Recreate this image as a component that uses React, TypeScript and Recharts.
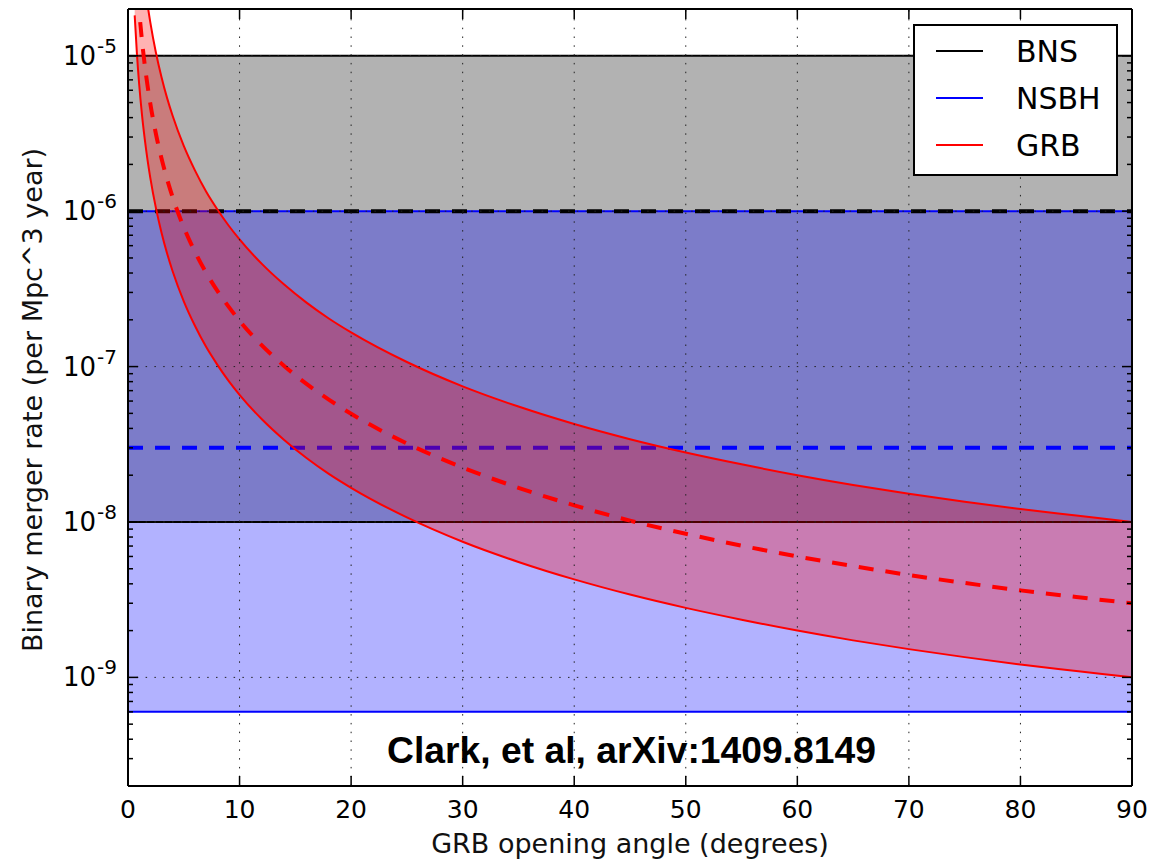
import React from 'react';
import {
  ComposedChart,
  Area,
  Line,
  XAxis,
  YAxis,
  ReferenceArea,
  ReferenceLine
} from 'recharts';

// GRB opening angle (degrees) and the implied rate band
const angle = [0.6, 0.8, 1, 1.25, 1.5, 1.75, 2, 2.5, 3, 3.5, 4, 5, 6, 7, 8, 9, 10, 12, 14, 16, 18, 20, 25, 30, 35, 40, 45, 50, 55, 60, 65, 70, 75, 80, 85, 90];
const grbLow = [1.82e-5, 1.03e-5, 6.57e-6, 4.2e-6, 2.92e-6, 2.14e-6, 1.64e-6, 1.05e-6, 7.3e-7, 5.36e-7, 4.11e-7, 2.63e-7, 1.83e-7, 1.34e-7, 1.03e-7, 8.12e-8, 6.58e-8, 4.58e-8, 3.37e-8, 2.58e-8, 2.04e-8, 1.66e-8, 1.07e-8, 7.46e-9, 5.53e-9, 4.27e-9, 3.41e-9, 2.8e-9, 2.35e-9, 2.0e-9, 1.73e-9, 1.52e-9, 1.35e-9, 1.21e-9, 1.1e-9, 1.0e-9];
const grbMid = [5.47e-5, 3.08e-5, 1.97e-5, 1.26e-5, 8.75e-6, 6.43e-6, 4.92e-6, 3.15e-6, 2.19e-6, 1.61e-6, 1.23e-6, 7.88e-7, 5.48e-7, 4.02e-7, 3.08e-7, 2.44e-7, 1.97e-7, 1.37e-7, 1.01e-7, 7.74e-8, 6.13e-8, 4.97e-8, 3.2e-8, 2.24e-8, 1.66e-8, 1.28e-8, 1.02e-8, 8.4e-9, 7.04e-9, 6.0e-9, 5.2e-9, 4.56e-9, 4.05e-9, 3.63e-9, 3.29e-9, 3.0e-9];
const grbHigh = [1.82e-4, 1.03e-4, 6.57e-5, 4.2e-5, 2.92e-5, 2.14e-5, 1.64e-5, 1.05e-5, 7.3e-6, 5.36e-6, 4.11e-6, 2.63e-6, 1.83e-6, 1.34e-6, 1.03e-6, 8.12e-7, 6.58e-7, 4.58e-7, 3.37e-7, 2.58e-7, 2.04e-7, 1.66e-7, 1.07e-7, 7.46e-8, 5.53e-8, 4.27e-8, 3.41e-8, 2.8e-8, 2.35e-8, 2.0e-8, 1.73e-8, 1.52e-8, 1.35e-8, 1.21e-8, 1.1e-8, 1.0e-8];

// BNS and NSBH rate bands (low, realistic, high)
const bnsRate = [1e-8, 1e-6, 1e-5];
const nsbhRate = [6e-10, 3e-8, 1e-6];

const xTicks = [0, 10, 20, 30, 40, 50, 60, 70, 80, 90];
const xGrid = [10, 20, 30, 40, 50, 60, 70, 80];
const yTicks = [1e-9, 1e-8, 1e-7, 1e-6, 1e-5];
const yDomain = [2e-10, 2e-5];
// log axis ticks: majors at each decade, minors at 2..9
const yAllTicks = [1e-10, 1e-9, 1e-8, 1e-7, 1e-6, 1e-5]
  .flatMap((d) => [1, 2, 3, 4, 5, 6, 7, 8, 9].map((m) => m * d))
  .filter((v) => v >= 1.99e-10 && v <= 2.01e-5);

const legendItems = [
  { name: 'BNS', color: '#000000' },
  { name: 'NSBH', color: '#0000ff' },
  { name: 'GRB', color: '#ff0000' }
];

const data = angle.map((a, i) => ({
  angle: a,
  low: grbLow[i],
  mid: grbMid[i],
  high: grbHigh[i],
  band: [grbLow[i], grbHigh[i]]
}));

const W = 1156;
const H = 854;
const MARGIN = { top: 1, right: 32, bottom: 0, left: 0 };
const Y_AXIS_W = 120;
const X_AXIS_H = 76;
const PLOT_W = W - MARGIN.left - MARGIN.right - Y_AXIS_W;
const PLOT_H = H - MARGIN.top - MARGIN.bottom - X_AXIS_H;
const FONT = "'DejaVu Sans', sans-serif";
const frame = { stroke: '#000', strokeWidth: 2 };
const grid = { stroke: '#222', strokeWidth: 1, strokeDasharray: '1.5 7.3' };

function XTick(props: any) {
  const { x, y, payload } = props;
  return (
    <g>
      <line x1={x} x2={x} y1={y} y2={y - 10} stroke="#000" strokeWidth={1.5} />
      <line x1={x} x2={x} y1={y - PLOT_H} y2={y - PLOT_H + 10} stroke="#000" strokeWidth={1.5} />
      <text x={x} y={y + 32} textAnchor="middle" fontSize={25} fontFamily={FONT} fill="#000">
        {payload.value}
      </text>
    </g>
  );
}

function YTick(props: any) {
  const { x, y, payload } = props;
  const lg = Math.log10(payload.value);
  const exp = Math.round(lg);
  const major = Math.abs(lg - exp) < 1e-6;
  const len = major ? 10 : 5;
  return (
    <g>
      <line x1={x} x2={x + len} y1={y} y2={y} stroke="#000" strokeWidth={1.5} />
      <line x1={x + PLOT_W} x2={x + PLOT_W - len} y1={y} y2={y} stroke="#000" strokeWidth={1.5} />
      {major && (
        <>
          <text x={x - 32} y={y + 9} textAnchor="end" fontSize={26} fontFamily={FONT} fill="#000">
            10
          </text>
          <text x={x - 31} y={y - 3} textAnchor="start" fontSize={20} fontFamily={FONT} fill="#000">
            {`-${Math.abs(exp)}`}
          </text>
        </>
      )}
    </g>
  );
}

function Overlay() {
  return (
    <svg
      width={W}
      height={H}
      style={{ position: 'absolute', left: 0, top: 0, pointerEvents: 'none' }}
    >
      <rect x={906} y={17} width={203} height={150} fill="#fff" stroke="#000" strokeWidth={2} />
      {legendItems.map((item, i) => (
        <g key={item.name}>
          <line x1={928} x2={975} y1={43 + i * 47} y2={43 + i * 47} stroke={item.color} strokeWidth={2} />
          <text x={1008} y={53.7 + i * 47} fontSize={30} fontFamily={FONT} fill="#000">
            {item.name}
          </text>
        </g>
      ))}
      <text
        x={623.5}
        y={755}
        textAnchor="middle"
        fontSize={37}
        fontWeight="bold"
        fontFamily="'Liberation Sans', Arial, sans-serif"
        textLength={489}
        lengthAdjust="spacingAndGlyphs"
        fill="#000"
      >
        Clark, et al, arXiv:1409.8149
      </text>
      <text x={622} y={845} textAnchor="middle" fontSize={27} fontFamily={FONT} fill="#111">
        GRB opening angle (degrees)
      </text>
      <text
        x={34}
        y={392}
        transform="rotate(-90, 34, 392)"
        textAnchor="middle"
        fontSize={27}
        fontFamily={FONT}
        fill="#111"
      >
        Binary merger rate (per Mpc^3 year)
      </text>
    </svg>
  );
}

export default function App() {
  return (
    <div style={{ position: 'relative', width: W, height: H }}>
      <ComposedChart width={W} height={H} data={data} margin={MARGIN} style={{ overflow: 'visible' }}>
        {/* rate bands */}
        <ReferenceArea y1={bnsRate[0]} y2={bnsRate[2]} fill="#000" fillOpacity={0.3} stroke="none" zIndex={50} />
        <ReferenceArea y1={nsbhRate[0]} y2={nsbhRate[2]} fill="#0000ff" fillOpacity={0.3} stroke="none" zIndex={51} />
        <ReferenceLine y={nsbhRate[0]} stroke="#0000ff" strokeWidth={2} zIndex={60} />
        <ReferenceLine y={nsbhRate[2]} stroke="#0000ff" strokeWidth={2} zIndex={60} />
        <ReferenceLine y={nsbhRate[1]} stroke="#0000ff" strokeWidth={4} strokeDasharray="15 12" zIndex={60} />
        <ReferenceLine y={bnsRate[0]} stroke="#000" strokeWidth={2} zIndex={61} />
        <ReferenceLine y={bnsRate[2]} stroke="#000" strokeWidth={2} zIndex={61} />
        <ReferenceLine y={bnsRate[1]} stroke="#000" strokeWidth={4} strokeDasharray="15 12" zIndex={61} />

        {/* GRB band */}
        <Area
          type="monotone"
          dataKey="band"
          fill="#ff0000"
          fillOpacity={0.3}
          stroke="none"
          isAnimationActive={false}
          zIndex={70}
        />
        <Line type="monotone" dataKey="low" stroke="#ff0000" strokeWidth={2} dot={false} isAnimationActive={false} zIndex={80} />
        <Line type="monotone" dataKey="high" stroke="#ff0000" strokeWidth={2} dot={false} isAnimationActive={false} zIndex={80} />
        <Line
          type="monotone"
          dataKey="mid"
          stroke="#ff0000"
          strokeWidth={4}
          strokeDasharray="15 12"
          dot={false}
          isAnimationActive={false}
          zIndex={80}
        />

        {/* dotted grid */}
        {xGrid.map((v) => (
          <ReferenceLine key={`gx${v}`} x={v} {...grid} zIndex={90} />
        ))}
        {yTicks.map((v) => (
          <ReferenceLine key={`gy${v}`} y={v} {...grid} zIndex={90} />
        ))}

        {/* axes */}
        <XAxis
          dataKey="angle"
          type="number"
          domain={[0, 90]}
          ticks={xTicks}
          interval={0}
          allowDataOverflow
          height={X_AXIS_H}
          tickLine={false}
          tickSize={0}
          tickMargin={0}
          tick={<XTick />}
          axisLine={frame}
        />
        <XAxis
          xAxisId="top"
          orientation="top"
          mirror
          type="number"
          domain={[0, 90]}
          ticks={xTicks}
          allowDataOverflow
          height={1}
          tick={false}
          tickLine={false}
          axisLine={frame}
        />
        <YAxis
          type="number"
          scale="log"
          domain={yDomain}
          ticks={yAllTicks}
          interval={0}
          allowDataOverflow
          width={Y_AXIS_W}
          tickLine={false}
          tickSize={0}
          tickMargin={0}
          tick={<YTick />}
          axisLine={frame}
        />
        <YAxis
          yAxisId="right"
          orientation="right"
          mirror
          type="number"
          scale="log"
          domain={yDomain}
          ticks={yTicks}
          allowDataOverflow
          width={1}
          tick={false}
          tickLine={false}
          axisLine={frame}
        />
      </ComposedChart>
      <Overlay />
    </div>
  );
}
